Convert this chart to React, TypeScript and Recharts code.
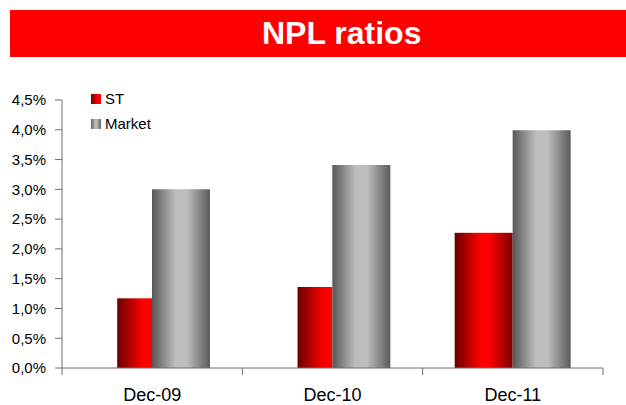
import React from "react";
import { Bar, BarChart, XAxis, YAxis } from "recharts";

const categories = ["Dec-09", "Dec-10", "Dec-11"];
const stValues = [1.17, 1.36, 2.27];
const marketValues = [3.0, 3.41, 3.99];
const yTicks = [0, 0.5, 1, 1.5, 2, 2.5, 3, 3.5, 4, 4.5];

const data = categories.map((cat, i) => ({
  cat,
  st: stValues[i],
  market: marketValues[i],
}));

const W = 626;
const H = 405;
const MARGIN = { top: 100, right: 23, bottom: 0, left: 0 };
const Y_AXIS_W = 62;
const X_AXIS_H = 37;
const AXIS = "#6e6e6e";
const FONT = "'Liberation Sans', Arial, sans-serif";

// the first two ST bars are drawn narrower in the source slide
const stWidthShare = [0.6, 0.6, 1];

function StShape(props: any) {
  const { x, y, width, height, index } = props;
  const share = stWidthShare[index] ?? 1;
  const w = width * share;
  return (
    <rect
      x={x + width - w}
      y={y}
      width={w}
      height={height}
      fill={share < 1 ? "url(#stHalf)" : "url(#stGrad)"}
    />
  );
}

function CatTick(props: any) {
  const { x, y, payload, index } = props;
  const band = (W - MARGIN.right - Y_AXIS_W) / categories.length;
  return (
    <g>
      <line x1={x - band / 2} x2={x - band / 2} y1={y} y2={y + 7} stroke={AXIS} />
      {index === categories.length - 1 && (
        <line x1={x + band / 2} x2={x + band / 2} y1={y} y2={y + 7} stroke={AXIS} />
      )}
      <text x={x} y={y + 33} textAnchor="middle" fontSize={18} fontFamily={FONT} fill="#000">
        {payload.value}
      </text>
    </g>
  );
}

function LegendBox() {
  const row = (label: string, bg: string) => (
    <div style={{ display: "flex", alignItems: "center", height: 25 }}>
      <span style={{ width: 10, height: 10, background: bg, marginRight: 4 }} />
      <span style={{ fontSize: 15, fontFamily: FONT, color: "#000" }}>{label}</span>
    </div>
  );
  return (
    <div style={{ position: "absolute", left: 91, top: 86 }}>
      {row("ST", "linear-gradient(90deg, #7a0000, #ff0000 70%)")}
      {row("Market", "linear-gradient(90deg, #666, #c4c4c4 50%, #666)")}
    </div>
  );
}

export default function App() {
  return (
    <div style={{ position: "absolute", left: 0, top: 0, width: W, height: H, background: "#fff" }}>
      <div
        style={{
          position: "absolute",
          left: 10,
          top: 10,
          width: W - 10,
          height: 47,
          background: "#ff0000",
        }}
      />
      <div
        style={{
          position: "absolute",
          left: 262,
          top: 10,
          width: 158,
          height: 47,
          lineHeight: "47px",
          textAlign: "center",
          color: "#fff",
          fontFamily: FONT,
          fontWeight: 700,
          fontSize: 32,
          whiteSpace: "nowrap",
        }}
      >
        NPL ratios
      </div>
      <div style={{ position: "absolute", left: 0, top: 0 }}>
        <BarChart width={W} height={H} data={data} margin={MARGIN} barSize={58} barGap={0}>
          <defs>
            <linearGradient id="stGrad" x1="0" y1="0" x2="1" y2="0">
              <stop offset="0" stopColor="#6a0000" />
              <stop offset="0.45" stopColor="#ff0000" />
              <stop offset="0.6" stopColor="#ff0000" />
              <stop offset="1" stopColor="#7a0000" />
            </linearGradient>
            <linearGradient id="stHalf" x1="0" y1="0" x2="1" y2="0">
              <stop offset="0" stopColor="#6a0000" />
              <stop offset="0.75" stopColor="#ff0000" />
              <stop offset="1" stopColor="#ff0000" />
            </linearGradient>
            <linearGradient id="mkGrad" x1="0" y1="0" x2="1" y2="0">
              <stop offset="0" stopColor="#575757" />
              <stop offset="0.4" stopColor="#bdbdbd" />
              <stop offset="0.6" stopColor="#bdbdbd" />
              <stop offset="1" stopColor="#5a5a5a" />
            </linearGradient>
          </defs>
          <XAxis
            dataKey="cat"
            height={X_AXIS_H}
            stroke={AXIS}
            tickLine={false}
            tickSize={0}
            tickMargin={0}
            tick={<CatTick />}
            interval={0}
          />
          <YAxis
            width={Y_AXIS_W}
            domain={[0, 4.5]}
            ticks={yTicks}
            stroke={AXIS}
            tickSize={7}
            tickMargin={9}
            tick={{ fontSize: 15, fontFamily: FONT, fill: "#000" }}
            tickFormatter={(v: number) => v.toFixed(1).replace(".", ",") + "%"}
          />
          <Bar dataKey="st" name="ST" shape={<StShape />} isAnimationActive={false} />
          <Bar dataKey="market" name="Market" fill="url(#mkGrad)" isAnimationActive={false} />
        </BarChart>
      </div>
      <LegendBox />
    </div>
  );
}
